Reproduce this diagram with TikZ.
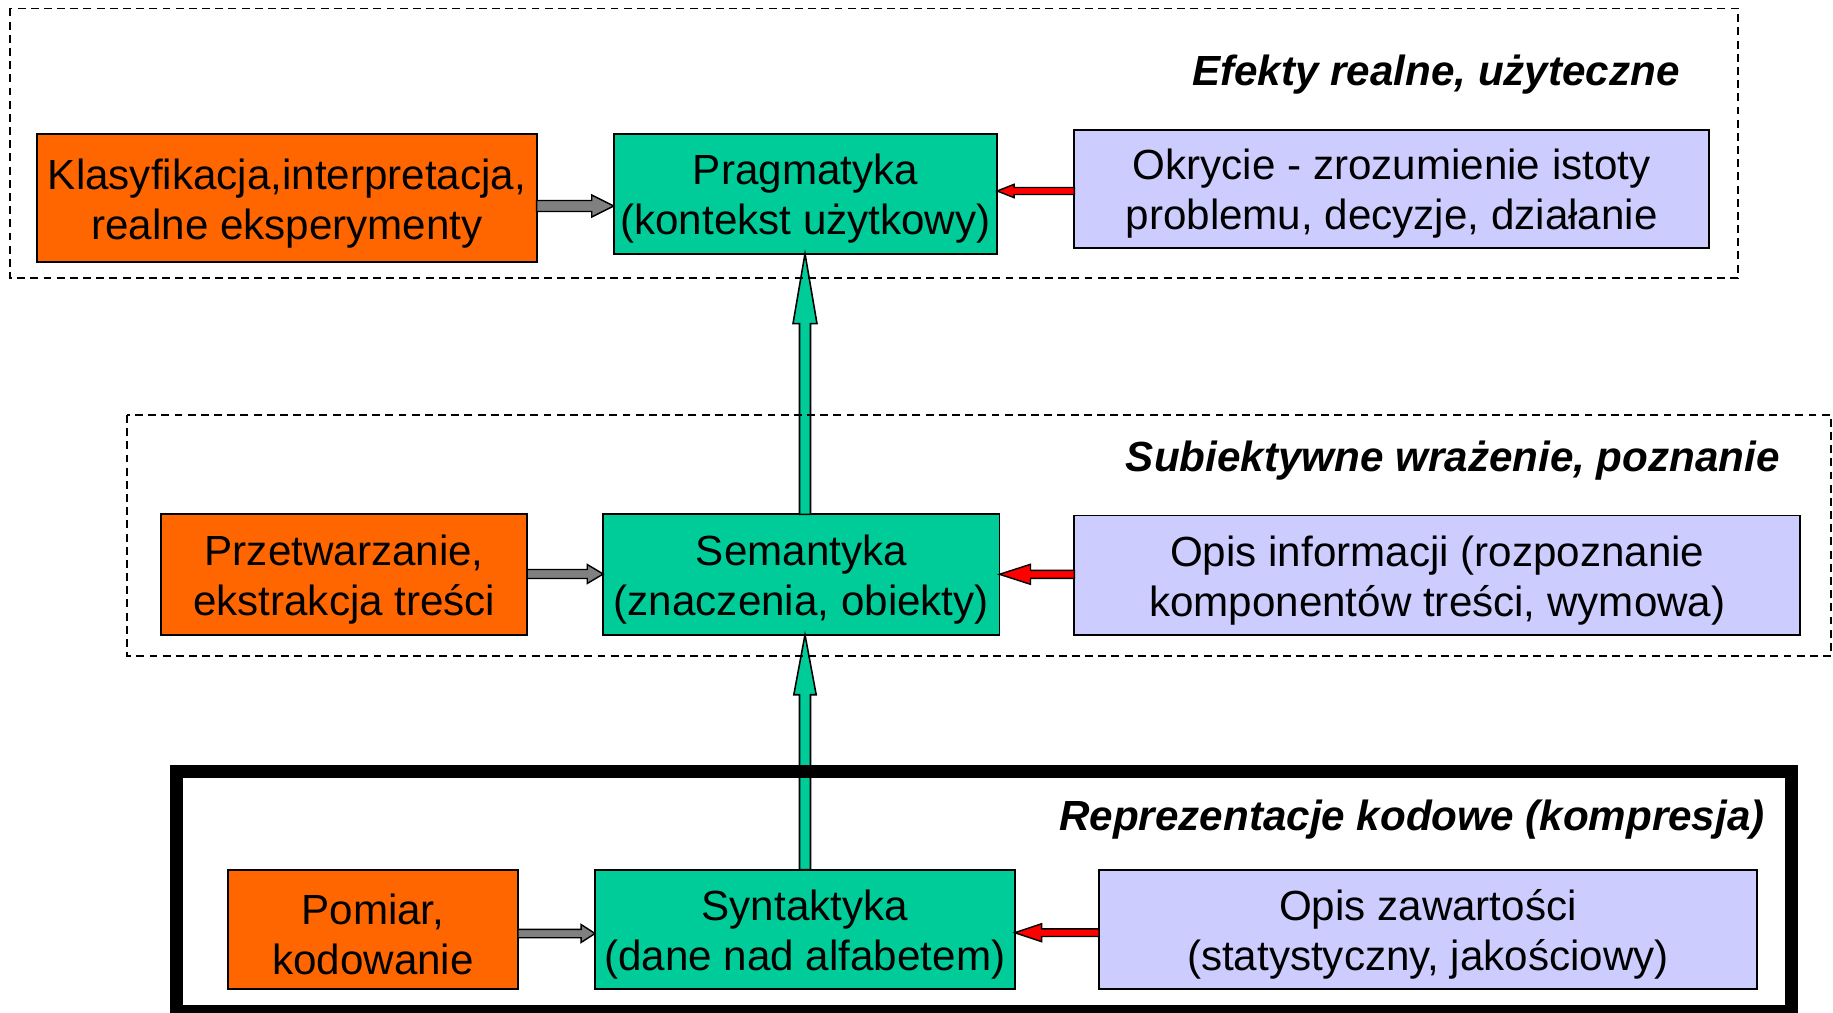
\documentclass[tikz,border=0pt]{standalone}
\usepackage{fontspec}
\setmainfont{Liberation Sans}
\usetikzlibrary{calc}
\definecolor{boxorange}{HTML}{FF6600}
\definecolor{boxgreen}{HTML}{00CC99}
\definecolor{boxlav}{HTML}{CCCCFF}
\definecolor{arrred}{HTML}{FF0000}
\definecolor{arrgray}{HTML}{808080}

% Block arrow: #1 style, #2 tail, #3 tip, #4 shaft half-width, #5 head half-width, #6 head length
\newcommand\blockarrow[6]{%
  \path ($(#3)!#6!(#2)$) coordinate (ba-h);
  \draw[#1] ($(#2)!#4!90:(#3)$) -- ($(ba-h)!#4!90:(#3)$) -- ($(ba-h)!#5!90:(#3)$)
    -- (#3) -- ($(ba-h)!#5!-90:(#3)$) -- ($(ba-h)!#4!-90:(#3)$)
    -- ($(#2)!#4!-90:(#3)$) -- cycle;
}

\begin{document}
\begin{tikzpicture}[x=0.02cm,y=-0.02cm,
  box/.style={draw=black, line width=1.1pt, inner sep=0pt, outer sep=0pt},
  boxtext/.style={inner sep=0pt, align=center, font=\fontsize{24}{28.5}\selectfont},
  orangebox/.style={box, fill=boxorange},
  greenbox/.style={box, fill=boxgreen},
  lavbox/.style={box, fill=boxlav},
  title/.style={anchor=east, inner sep=0pt, font=\fontsize{24}{28.5}\selectfont\bfseries\itshape},
  group/.style={draw=black, line width=1.1pt, dash pattern=on 4.5pt off 3pt},
  strong/.style={draw=black, line width=7.4pt},
  grayarrow/.style={fill=arrgray, draw=black, line width=0.8pt, line join=miter},
  redarrow/.style={fill=arrred, draw=black, line width=0.8pt, line join=miter},
  greenarrow/.style={fill=boxgreen, draw=black, line width=0.9pt, line join=miter}]

\useasboundingbox (0,0) rectangle (1833,1013);

% boxes of the three levels
\node[orangebox, minimum width=9.984cm, minimum height=2.55cm] (kl) at (287,198.15) {};
\node[greenbox, minimum width=7.67cm, minimum height=2.386cm] (pg) at (805.45,194.05) {};
\node[lavbox, minimum width=12.696cm, minimum height=2.36cm] (ok) at (1391.7,188.8) {};

\node[orangebox, minimum width=7.318cm, minimum height=2.408cm] (pr) at (344.25,574.6) {};
\node[greenbox, minimum width=7.926cm, minimum height=2.408cm] (se) at (801.35,574.6) {};
\node[lavbox, minimum width=14.52cm, minimum height=2.386cm] (oi) at (1437.3,575.15) {};

\node[orangebox, minimum width=5.798cm, minimum height=2.386cm] (po) at (372.95,929.35) {};
\node[greenbox, minimum width=8.394cm, minimum height=2.386cm] (sy) at (804.85,929.35) {};
\node[lavbox, minimum width=13.162cm, minimum height=2.386cm] (oz) at (1427.95,929.35) {};

% box texts, set a little below the box centres
\node[boxtext] (kl-t) at ($(kl.center)+(0,5)$) {Klasyfikacja,interpretacja,\\realne eksperymenty};
\node[boxtext] (pg-t) at ($(pg.center)+(0,5)$) {Pragmatyka\\(kontekst użytkowy)};
\node[boxtext] (ok-t) at ($(ok.center)+(0,5)$) {Okrycie - zrozumienie istoty\\problemu, decyzje, działanie};
\node[boxtext] (pr-t) at ($(pr.center)+(0,5)$) {Przetwarzanie,\\ekstrakcja treści};
\node[boxtext] (se-t) at ($(se.center)+(0,5)$) {Semantyka\\(znaczenia, obiekty)};
\node[boxtext] (oi-t) at ($(oi.center)+(0,5)$) {Opis informacji (rozpoznanie\\komponentów treści, wymowa)};
\node[boxtext] (po-t) at ($(po.center)+(0,5)$) {Pomiar,\\kodowanie};
\node[boxtext] (sy-t) at ($(sy.center)+(0,5)$) {Syntaktyka\\(dane nad alfabetem)};
\node[boxtext] (oz-t) at ($(oz.center)+(0,5)$) {Opis zawartości\\(statystyczny, jakościowy)};

% reference lines for the arrows
\coordinate (vx) at (805,0);
\coordinate (ya) at (0,206);
\coordinate (yb) at (0,191);
\coordinate (yc) at (0,574);
\coordinate (yd) at (0,574.3);
\coordinate (ye) at (0,933.5);
\coordinate (yf) at (0,932.7);

% vertical arrows between the levels
\blockarrow{greenarrow}{se.north -| vx}{pg.south -| vx}{0.11cm}{0.24cm}{1.4cm}
\blockarrow{greenarrow}{sy.north -| vx}{se.south -| vx}{0.11cm}{0.224cm}{1.2cm}

% horizontal arrows
\blockarrow{grayarrow}{kl.east |- ya}{pg.west |- ya}{0.11cm}{0.22cm}{0.44cm}
\blockarrow{redarrow}{ok.west |- yb}{pg.east |- yb}{0.07cm}{0.134cm}{0.34cm}
\blockarrow{grayarrow}{pr.east |- yc}{se.west |- yc}{0.09cm}{0.19cm}{0.32cm}
\blockarrow{redarrow}{oi.west |- yd}{se.east |- yd}{0.08cm}{0.2cm}{0.62cm}
\blockarrow{grayarrow}{po.east |- ye}{sy.west |- ye}{0.084cm}{0.18cm}{0.28cm}
\blockarrow{redarrow}{oz.west |- yf}{sy.east |- yf}{0.076cm}{0.18cm}{0.54cm}

% level frames
\draw[group] (10,8.5) rectangle (1738,278);
\draw[group] (127,415) rectangle (1831,656);
\draw[strong] (176.5,771.5) rectangle (1791.5,1011.5);

% level titles
\node[title] (t1) at (1680,75) {Efekty realne, użyteczne};
\node[title] (t2) at (1780,461) {Subiektywne wrażenie, poznanie};
\node[title] (t3) at (1765,820) {Reprezentacje kodowe (kompresja)};
\end{tikzpicture}
\end{document}
